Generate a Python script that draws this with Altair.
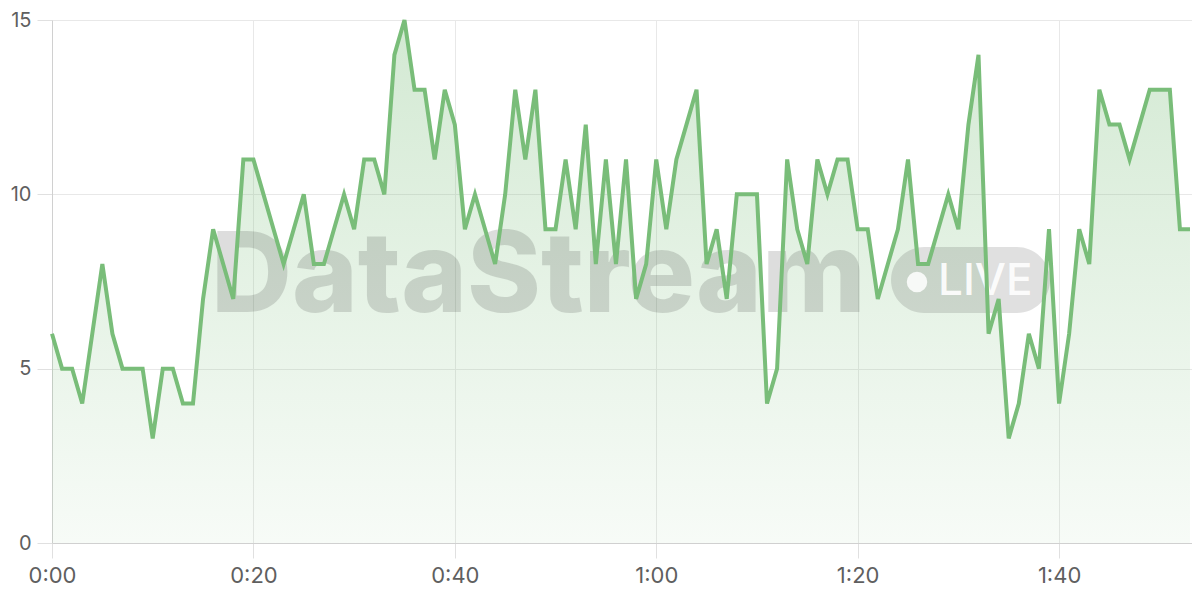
import altair as alt
import pandas as pd

# elapsed seconds and measured values
seconds = list(range(0, 114))
values = [6, 5, 5, 4, 6, 8, 6, 5, 5, 5,
          3, 5, 5, 4, 4, 7, 9, 8, 7, 11,
          11, 10, 9, 8, 9, 10, 8, 8, 9, 10,
          9, 11, 11, 10, 14, 15, 13, 13, 11, 13,
          12, 9, 10, 9, 8, 10, 13, 11, 13, 9,
          9, 11, 9, 12, 8, 11, 8, 11, 7, 8,
          11, 9, 11, 12, 13, 8, 9, 7, 10, 10,
          10, 4, 5, 11, 9, 8, 11, 10, 11, 11,
          9, 9, 7, 8, 9, 11, 8, 8, 9, 10,
          9, 12, 14, 6, 7, 3, 4, 6, 5, 9,
          4, 6, 9, 8, 13, 12, 12, 11, 12, 13,
          13, 13, 9, 9]

x_ticks = [0, 20, 40, 60, 80, 100]
y_ticks = [0, 5, 10, 15]
watermark_text = ["DataStream"]
badge_text = ["LIVE"]

df = pd.DataFrame({"t": seconds, "v": values})

LINE = "#79bd79"
FONT = "Inter"

x_enc = alt.X(
    "t:Q",
    scale=alt.Scale(domain=[0, 113.2], nice=False, zero=False),
    axis=alt.Axis(
        values=x_ticks,
        labelExpr="floor(datum.value/60) + ':' + (datum.value % 60 < 10 ? '0' : '') + (datum.value % 60)",
        title=None,
        grid=True,
        gridColor="#e8e8e8",
        tickSize=15,
        tickColor="#e0e0e0",
        domainColor="#d0d0d0",
        labelFont=FONT,
        labelFontSize=22,
        labelColor="#5f5f5f",
        labelPadding=7,
        labelFlush=False,
    ),
)
y_enc = alt.Y(
    "v:Q",
    scale=alt.Scale(domain=[0, 15], nice=False),
    axis=alt.Axis(
        values=y_ticks,
        title=None,
        grid=True,
        gridColor="#e8e8e8",
        tickSize=15,
        tickColor="#e0e0e0",
        domainColor="#d0d0d0",
        labelFont=FONT,
        labelFontSize=20,
        labelColor="#5f5f5f",
        labelPadding=6,
        labelFlush=False,
    ),
)

base = alt.Chart(df)

area = base.mark_area(
    line=False,
    color=alt.Gradient(
        gradient="linear",
        stops=[
            alt.GradientStop(color="rgba(121,189,121,0.33)", offset=0),
            alt.GradientStop(color="rgba(121,189,121,0.06)", offset=1),
        ],
        x1=1, x2=1, y1=0, y2=1,
    ),
).encode(x=x_enc, y=y_enc)

line = base.mark_line(color=LINE, strokeWidth=4, strokeJoin="miter").encode(
    x="t:Q", y="v:Q"
)

wm_df = pd.DataFrame({"label": watermark_text})
badge_df = pd.DataFrame({"label": badge_text})

wm_text = alt.Chart(wm_df).mark_text(
    align="left", baseline="alphabetic", font=FONT, fontSize=112,
    fontWeight=800, color="#000000", opacity=0.13,
).encode(x=alt.value(159), y=alt.value(292), text="label:N")

badge = alt.Chart(badge_df).mark_rect(
    color="#000000", opacity=0.12, cornerRadius=33,
).encode(x=alt.value(839), x2=alt.value(998), y=alt.value(227), y2=alt.value(293))

dot = alt.Chart(badge_df).mark_point(
    shape="circle", filled=True, color="#ffffff", opacity=0.85, size=420,
).encode(x=alt.value(865), y=alt.value(262))

badge_label = alt.Chart(badge_df).mark_text(
    align="left", baseline="alphabetic", font=FONT, fontSize=44,
    fontWeight=500, color="#ffffff", opacity=0.9,
).encode(x=alt.value(886), y=alt.value(275), text="label:N")

chart = alt.layer(area, wm_text, badge, dot, badge_label, line).properties(
    width=1140,
    height=523,
    autosize=alt.AutoSizeParams(type="none"),
    padding={"left": 44, "top": 12, "right": 0, "bottom": 50},
).configure_view(stroke="transparent")

chart.save("out.html", embed_options={"renderer": "svg", "actions": False})
